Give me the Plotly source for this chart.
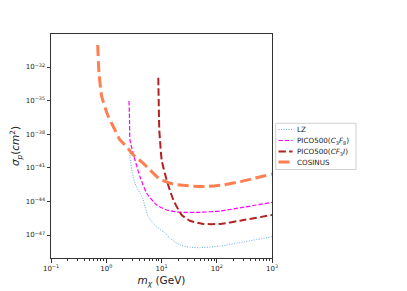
import plotly.graph_objects as go

# ---- data ----
lz_m = [2.67, 2.69, 2.89, 3.31, 4.08, 4.69, 5.03, 5.77, 7.11, 9.40, 11.6, 14.3, 21.6, 32.8, 49.8, 115, 1000]
lz_s = [3.9e-40, 9.8e-41, 6.5e-42, 4.2e-43, 5.4e-44, 1.35e-44, 3.4e-45, 4.4e-46, 1.12e-46, 3.2e-47,
        1.6e-47, 5.1e-48, 1.3e-48, 8.1e-49, 7.4e-49, 1.05e-48, 7.1e-48]

c3f8_m = [2.58, 2.64, 2.69, 3.31, 4.08, 5.40, 8.19, 12.4, 21.6, 49.8, 115, 1000]
c3f8_s = [9.3e-36, 1.9e-37, 3.1e-39, 5.0e-41, 1.6e-42, 5.4e-44, 4.8e-45, 1.74e-45, 1.07e-45, 1.07e-45, 1.4e-45, 8.3e-45]

cf3i_m = [8.75, 9.12, 9.40, 10.07, 12.4, 16.4, 23.2, 32.8, 57.1, 115, 263, 1000]
cf3i_s = [1.12e-33, 2.4e-38, 3.1e-39, 5.0e-41, 8.1e-43, 1.35e-44, 6.2e-46, 1.9e-46, 9.8e-47, 9.8e-47, 1.9e-46, 6.2e-46]

cos_m = [0.70, 0.74, 0.83, 1.09, 1.44, 1.77, 2.34, 3.09, 4.69, 9.40, 16.4, 37.7, 70, 130, 263, 1000]
cos_s = [9.3e-31, 2.75e-33, 2.2e-35, 3.7e-37, 2.4e-38, 3.1e-39, 7.8e-40, 1.4e-40, 2.5e-41, 9.5e-43,
         3.6e-43, 2.3e-43, 2.2e-43, 3.0e-43, 5.75e-43, 2.8e-42]

series_names = ["LZ",
                "PICO500(<i>C</i><sub>3</sub><i>F</i><sub>8</sub>)",
                "PICO500(<i>CF</i><sub>3</sub><i>I</i>)",
                "COSINUS"]

y_tick_exp = [-32, -35, -38, -41, -44, -47]
x_tick_exp = [-1, 0, 1, 2, 3]
x_minor = [k * 10.0**e for e in x_tick_exp[:-1] for k in range(2, 10)]

styles = [
    dict(color="#5aaaf5", width=1.0, dash="1px,1.5px"),
    dict(color="#ff00ff", width=1.2, dash="4.4px,1.9px"),
    dict(color="#b22222", width=2, dash="7.4px,3.2px"),
    dict(color="#ff7f50", width=3, dash="11px,4.8px"),
]
data = [(lz_m, lz_s), (c3f8_m, c3f8_s), (cf3i_m, cf3i_s), (cos_m, cos_s)]

fig = go.Figure()
for (xm, ys), st, nm in zip(data, styles, series_names):
    fig.add_trace(go.Scatter(x=xm, y=ys, mode="lines", name=nm, showlegend=False,
                             line=dict(shape="spline", smoothing=0.5, **st)))
# invisible trace to carry the minor-tick axis
fig.add_trace(go.Scatter(x=[cos_m[0]], y=[cos_s[0]], xaxis="x2", mode="markers",
                         marker=dict(opacity=0), showlegend=False, hoverinfo="skip"))

# page body has an 8px default margin; compensate so plot area sits at x 51..272, y 34..258
OFF = 8
W, H = 407, 291
L, R, T, B = 51, 135, 34, 33
PW, PH = W - L - R, H - T - B

def px(x):
    return (x - L) / PW

def py(y):
    return (H - B - y) / PH

# manual legend
shapes = [dict(type="rect", xref="paper", yref="paper",
               x0=px(275.7), x1=px(356), y0=py(123.3), y1=py(169.5),
               line=dict(color="#d0d0d0", width=1), fillcolor="white", layer="above")]
annotations = []
rows = [129.5, 140.5, 151.5, 162.0]
for st, nm, ry in zip(styles, series_names, rows):
    shapes.append(dict(type="line", xref="paper", yref="paper",
                       x0=px(278.5), x1=px(292.5), y0=py(ry), y1=py(ry),
                       line=dict(color=st["color"], width=st["width"], dash=st["dash"]), layer="above"))
    annotations.append(dict(xref="paper", yref="paper", x=px(295), y=py(ry), text=nm,
                            showarrow=False, xanchor="left", yanchor="middle",
                            font=dict(size=7.2, color="#222")))

fig.update_layout(
    width=W - OFF, height=H - OFF,
    margin=dict(l=L - OFF, r=R, t=T - OFF, b=B, autoexpand=False),
    paper_bgcolor="white", plot_bgcolor="white",
    font=dict(family="DejaVu Sans", size=7, color="#222"),
    showlegend=False,
    shapes=shapes, annotations=annotations,
    xaxis2=dict(type="log", range=[-1, 3], overlaying="x", side="bottom",
                tickvals=x_minor, ticktext=["" for _ in x_minor],
                ticks="outside", ticklen=2, tickwidth=0.6, tickcolor="#333",
                showgrid=False, zeroline=False, showline=False),
    xaxis=dict(type="log", range=[-1, 3],
               tickvals=[10.0**e for e in x_tick_exp],
               ticktext=["10<sup>%s</sup>" % (str(e).replace("-", "\u2212")) for e in x_tick_exp],
               ticks="outside", ticklen=3.5, tickwidth=0.8, tickcolor="#333",
               showline=True, linecolor="#333", linewidth=1, mirror=True,
               showgrid=False, zeroline=False,
               title=dict(text="<i>m</i><sub><i>χ</i></sub> (GeV)", font=dict(size=10.5), standoff=4)),
    yaxis=dict(type="log", range=[-49.05, -29.05],
               tickvals=[10.0**e for e in y_tick_exp],
               ticktext=["10<sup>%s</sup>" % (str(e).replace("-", "\u2212")) for e in y_tick_exp],
               ticks="outside", ticklen=3.5, tickwidth=0.8, tickcolor="#333",
               showline=True, linecolor="#333", linewidth=1, mirror=True,
               showgrid=False, zeroline=False,
               title=dict(text="<i>σ</i><sub><i>p</i></sub>(<i>cm</i><sup>2</sup>)", font=dict(size=10.5), standoff=6)),
)

fig.write_html("out.html")
